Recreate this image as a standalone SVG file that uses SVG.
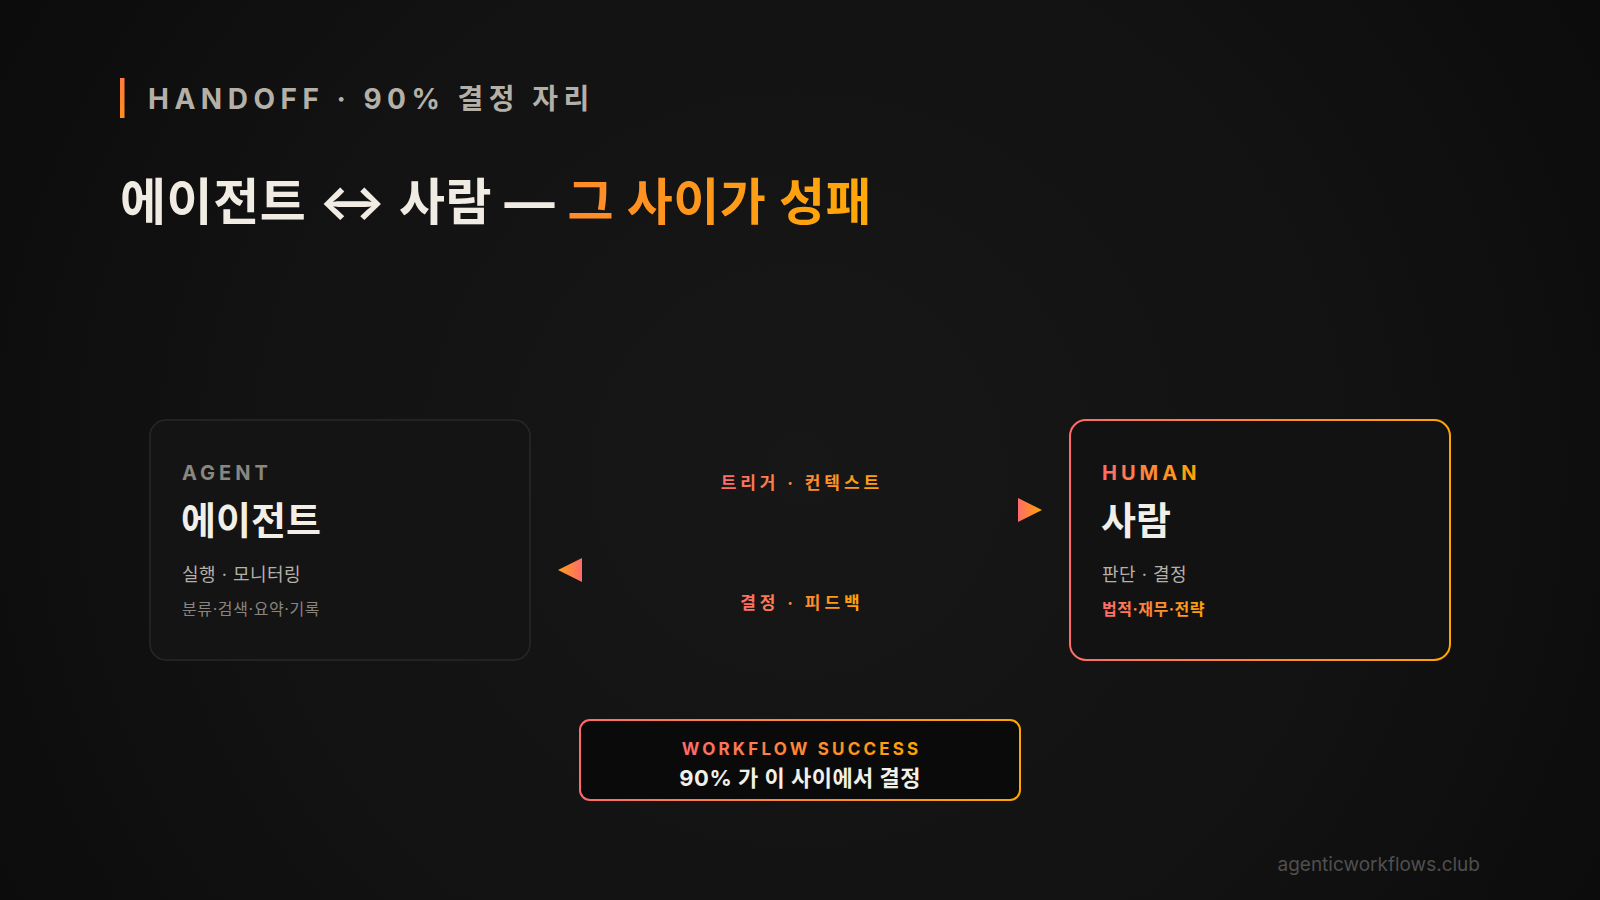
<svg xmlns="http://www.w3.org/2000/svg" width="1600" height="900" viewBox="0 0 1600 900">
<defs>
<radialGradient id="bg" cx="800" cy="470" r="950" gradientUnits="userSpaceOnUse">
<stop offset="0" stop-color="#171717"/>
<stop offset="0.6" stop-color="#121212"/>
<stop offset="1" stop-color="#0b0b0b"/>
</radialGradient>
<linearGradient id="bar" x1="0" y1="0" x2="0" y2="1">
<stop offset="0" stop-color="#ff7a3d"/>
<stop offset="1" stop-color="#ff8f1f"/>
</linearGradient>
<linearGradient id="titleAccent" x1="565" y1="0" x2="866" y2="0" gradientUnits="userSpaceOnUse">
<stop offset="0" stop-color="#ff8a2a"/>
<stop offset="1" stop-color="#ffa808"/>
</linearGradient>
<linearGradient id="warmH" x1="0" y1="0" x2="1" y2="0">
<stop offset="0" stop-color="#ff6b6b"/>
<stop offset="1" stop-color="#ffa500"/>
</linearGradient>
<linearGradient id="warmRev" x1="0" y1="0" x2="1" y2="0">
<stop offset="0" stop-color="#ff9f1a"/>
<stop offset="1" stop-color="#ff6b6b"/>
</linearGradient>
<linearGradient id="humanStroke" x1="1070" y1="0" x2="1450" y2="0" gradientUnits="userSpaceOnUse">
<stop offset="0" stop-color="#ff6b6b"/>
<stop offset="1" stop-color="#ffa500"/>
</linearGradient>
<linearGradient id="boxStroke" x1="580" y1="0" x2="1020" y2="0" gradientUnits="userSpaceOnUse">
<stop offset="0" stop-color="#ff6b6b"/>
<stop offset="1" stop-color="#ffa500"/>
</linearGradient>
<linearGradient id="humanLbl" x1="1102" y1="0" x2="1198" y2="0" gradientUnits="userSpaceOnUse">
<stop offset="0" stop-color="#ff6b6b"/>
<stop offset="1" stop-color="#ffa500"/>
</linearGradient>
<linearGradient id="humanTag" x1="1102" y1="0" x2="1206" y2="0" gradientUnits="userSpaceOnUse">
<stop offset="0" stop-color="#ff6b6b"/>
<stop offset="1" stop-color="#ffa500"/>
</linearGradient>
<linearGradient id="lblTop" x1="718" y1="0" x2="882" y2="0" gradientUnits="userSpaceOnUse">
<stop offset="0" stop-color="#ff6b6b"/>
<stop offset="1" stop-color="#ffa500"/>
</linearGradient>
<linearGradient id="lblBot" x1="739" y1="0" x2="862" y2="0" gradientUnits="userSpaceOnUse">
<stop offset="0" stop-color="#ff6b6b"/>
<stop offset="1" stop-color="#ffa500"/>
</linearGradient>
<linearGradient id="wsLbl" x1="682" y1="0" x2="919" y2="0" gradientUnits="userSpaceOnUse">
<stop offset="0" stop-color="#ff6b6b"/>
<stop offset="1" stop-color="#ffa500"/>
</linearGradient>
<style>
.sans{font-family:Inter,"Noto Sans CJK KR",sans-serif;}
.eyebrow{font-size:28px;font-weight:700;letter-spacing:5.5px;fill:#b5b0a7;}
.title{font-size:50px;font-weight:700;letter-spacing:0.6px;fill:#f0ece4;}
.tag{font-size:20px;font-weight:700;letter-spacing:4px;}
.name{font-size:38px;font-weight:700;letter-spacing:0px;fill:#f2efe8;}
.sub{font-size:18px;font-weight:400;letter-spacing:0.5px;fill:#b5b0a8;}
.small{font-size:16px;font-weight:400;letter-spacing:0.6px;fill:#8a857f;}
.smallb{font-size:16px;font-weight:700;letter-spacing:0.5px;}
.edge{font-size:17px;font-weight:700;letter-spacing:3.9px;}
.foot{font-size:19px;font-weight:400;fill:#4f4f4f;}
</style>
</defs>
<rect width="1600" height="900" fill="url(#bg)"/>

<g id="header">
<rect x="120" y="78" width="4.5" height="40" fill="url(#bar)"/>
<text class="sans eyebrow" x="148" y="109">HANDOFF · 90% 결정 자리</text>
<text class="sans title" x="120" y="220">에이전트 ↔ 사람 — <tspan fill="url(#titleAccent)">그 사이가 성패</tspan></text>
</g>

<g id="agent">
<rect x="150" y="420" width="380" height="240" rx="16" fill="#141414" stroke="#282828" stroke-width="1.5"/>
<text class="sans tag" x="182" y="480" fill="#8a8680">AGENT</text>
<text class="sans name" x="181" y="534">에이전트</text>
<text class="sans sub" x="182" y="581">실행 · 모니터링</text>
<text class="sans small" x="182" y="615">분류·검색·요약·기록</text>
</g>

<g id="human">
<rect x="1070" y="420" width="380" height="240" rx="16" fill="#121212" stroke="url(#humanStroke)" stroke-width="2"/>
<text class="sans tag" x="1102" y="480" fill="url(#humanLbl)">HUMAN</text>
<text class="sans name" x="1101" y="534">사람</text>
<text class="sans sub" x="1102" y="581">판단 · 결정</text>
<text class="sans smallb" x="1102" y="615" fill="url(#humanTag)">법적·재무·전략</text>
</g>

<g id="connectors">
<text class="sans edge" x="801.9" y="489" text-anchor="middle" fill="url(#lblTop)">트리거 · 컨텍스트</text>
<path d="M1018 498 L1042 510 L1018 522 Z" fill="url(#warmH)"/>
<path d="M582 558 L558 570 L582 582 Z" fill="url(#warmRev)"/>
<text class="sans edge" x="801.9" y="609" text-anchor="middle" fill="url(#lblBot)">결정 · 피드백</text>
</g>

<g id="workflow-success">
<rect x="580" y="720" width="440" height="80" rx="10" fill="#0a0a0a" stroke="url(#boxStroke)" stroke-width="2"/>
<text class="sans" x="801.6" y="755" text-anchor="middle" font-size="17" font-weight="700" letter-spacing="3.2" fill="url(#wsLbl)">WORKFLOW SUCCESS</text>
<text class="sans" x="800.2" y="786" text-anchor="middle" font-size="22" font-weight="700" letter-spacing="0.5" fill="#f2efe8">90% 가 이 사이에서 결정</text>
</g>

<g id="footer">
<text class="sans foot" x="1480" y="871" text-anchor="end">agenticworkflows.club</text>
</g>
</svg>
